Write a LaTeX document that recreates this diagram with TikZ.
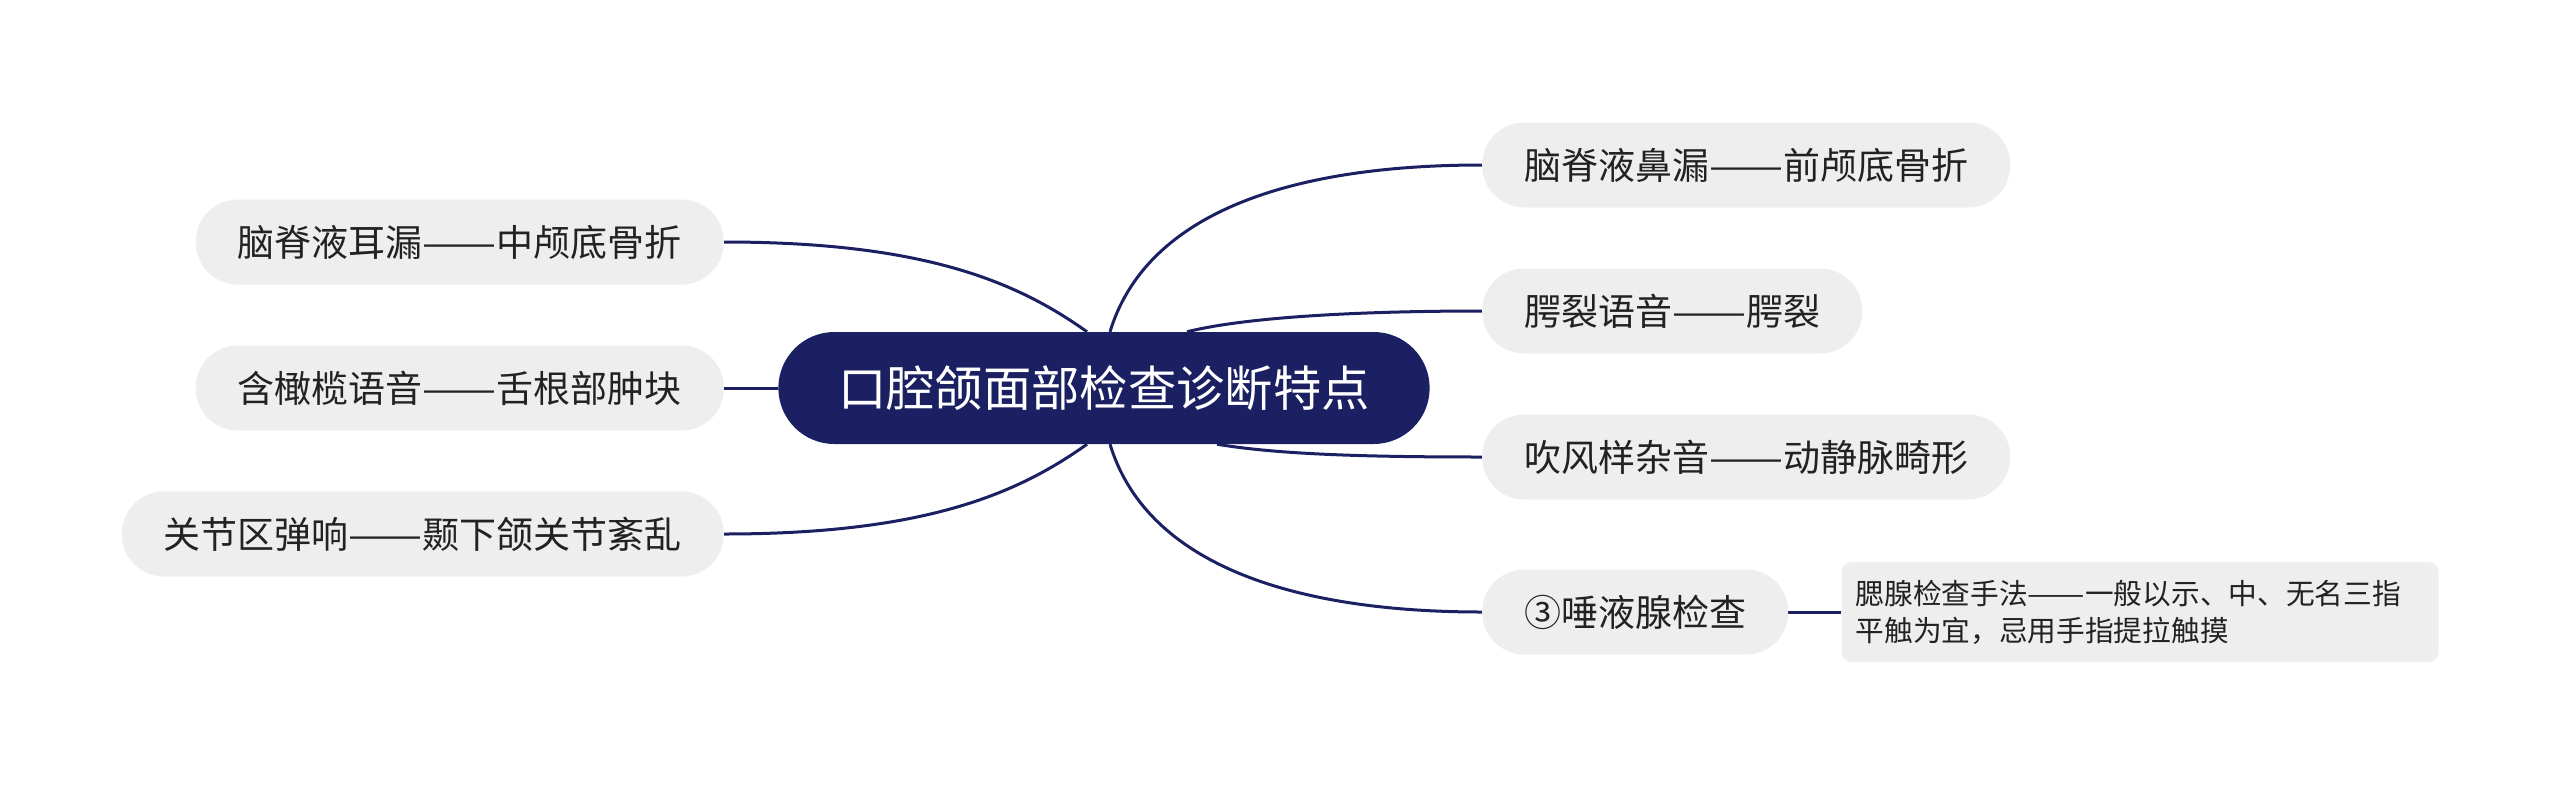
\documentclass[tikz,border=0pt]{standalone}
\usepackage{fontspec}
\setmainfont{Noto Sans CJK SC}
\usetikzlibrary{positioning, backgrounds}

\definecolor{navy}{HTML}{1B2062}
\definecolor{pillgray}{HTML}{EEEEEE}
\definecolor{inkgray}{HTML}{222222}

% full-width double dash
\newcommand{\longdash}{\resizebox{2em}{\height}{——}}

\begin{document}
\begin{tikzpicture}[
    x=1pt, y=-1pt,
    root/.style={
        rectangle,
        rounded corners=56pt,
        fill=navy,
        text=white,
        font=\fontsize{48.3}{56}\selectfont,
        minimum height=112pt,
        inner xsep=60pt
    },
    topic/.style={
        rectangle,
        rounded corners=42pt,
        fill=pillgray,
        text=inkgray,
        font=\fontsize{37}{44}\selectfont,
        minimum height=85pt,
        inner xsep=42pt
    },
    leaf/.style={
        rectangle,
        rounded corners=10pt,
        fill=pillgray,
        text=inkgray,
        font=\fontsize{28.7}{37}\selectfont,
        align=left,
        text width=569pt,
        inner xsep=14pt,
        minimum height=100pt
    },
    link/.style={draw=navy, line width=3pt}
]
\useasboundingbox (0,0) rectangle (2560,785);

\node[root] (root) at (1104,388) {口腔颌面部检查诊断特点};

\node[topic, anchor=west] (nose) at (1482,165) {脑脊液鼻漏\longdash 前颅底骨折};
\node[topic, anchor=west] (cleft) at (1482,311) {腭裂语音\longdash 腭裂};
\node[topic, anchor=west] (murmur) at (1482,457) {吹风样杂音\longdash 动静脉畸形};
\node[topic, anchor=west] (saliva) at (1482,612) {③唾液腺检查};

\node[leaf, right=53pt of saliva] (palp) {
    腮腺检查手法\longdash 一般以示、中、无名三指\\
    平触为宜，忌用手指提拉触摸
};

\node[topic, anchor=east] (ear) at (724,242) {脑脊液耳漏\longdash 中颅底骨折};
\node[topic, anchor=east] (olive) at (724,388) {含橄榄语音\longdash 舌根部肿块};
\node[topic, anchor=east] (joint) at (724,534) {关节区弹响\longdash 颞下颌关节紊乱};

\begin{scope}[on background layer]
\draw[link] ([xshift=6pt]root.north) .. controls +(35,-115) and +(-200,0) .. (nose.west);
\draw[link] ([xshift=83pt]root.north) .. controls +(60,-15) and +(-120,0) .. (cleft.west);
\draw[link] ([xshift=113pt]root.south) .. controls +(60,10) and +(-120,0) .. (murmur.west);
\draw[link] ([xshift=6pt]root.south) .. controls +(35,115) and +(-200,0) .. (saliva.west);
\draw[link] (saliva.east) -- (palp.west);
\draw[link] (ear.east) .. controls +(200,0) and +(-70,-50) .. ([xshift=-17pt]root.north);
\draw[link] (olive.east) -- (root.west);
\draw[link] (joint.east) .. controls +(200,0) and +(-70,50) .. ([xshift=-17pt]root.south);
\end{scope}

\end{tikzpicture}
\end{document}
